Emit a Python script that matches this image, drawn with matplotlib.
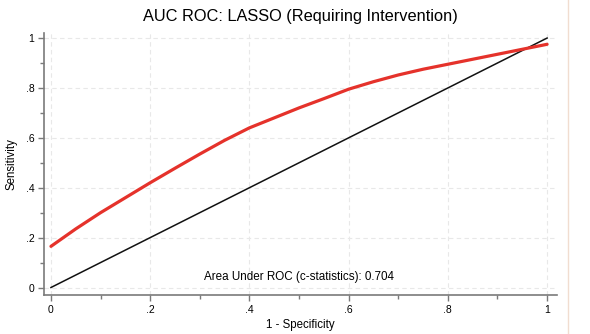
import numpy as np
import matplotlib.pyplot as plt
from matplotlib.lines import Line2D

# ROC curve
fpr = [0.0, 0.05, 0.1, 0.15, 0.2, 0.25, 0.3, 0.35, 0.4, 0.45, 0.5, 0.55,
       0.6, 0.65, 0.7, 0.75, 0.8, 0.85, 0.9, 0.95, 1.0]
tpr = [0.165, 0.235, 0.30, 0.36, 0.42, 0.478, 0.535, 0.59, 0.64, 0.68, 0.72,
       0.757, 0.795, 0.825, 0.852, 0.875, 0.895, 0.915, 0.935, 0.955, 0.975]
ref_x = [0, 1]
ref_y = [0, 1]

auc_text = "Area Under ROC (c-statistics): 0.704"
title = "AUC ROC: LASSO (Requiring Intervention)"
ticks = [0, 0.2, 0.4, 0.6, 0.8, 1.0]
tick_labels = ["0", ".2", ".4", ".6", ".8", "1"]

plt.rcParams['font.family'] = ['Liberation Sans', 'DejaVu Sans']

fig = plt.figure(figsize=(5.9, 3.34), dpi=100)
ax = fig.add_axes([0.0746, 0.1168, 0.8695, 0.7842])

ax.plot(fpr, tpr, color='#e5322b', lw=2.3, solid_capstyle='round', zorder=3)
ax.plot(ref_x, ref_y, color='#111111', lw=1.1, zorder=2)

ax.set_xlim(-0.014, 1.02)
ax.set_ylim(-0.03, 1.02)
ax.set_xticks(ticks)
ax.set_xticklabels(tick_labels)
ax.set_yticks(ticks)
ax.set_yticklabels(tick_labels)
ax.set_xticks(np.arange(0.1, 1.0, 0.2), minor=True)
ax.set_yticks(np.arange(0.1, 1.0, 0.2), minor=True)

ax.grid(True, which='major', color='#e8e8e8', ls=(0, (4, 3)), lw=0.8)
for s in ['top', 'right']:
    ax.spines[s].set_visible(False)
for s in ['left', 'bottom']:
    ax.spines[s].set_color('#7a7a7a')
    ax.spines[s].set_linewidth(1.2)
ax.tick_params(which='major', length=4, width=1, color='#7a7a7a',
               labelsize=7.5, pad=3)
ax.tick_params(which='minor', length=3, width=1, color='#7a7a7a')

ax.set_title(title, fontsize=11.8, pad=9)
ax.set_xlabel("1 - Specificity", fontsize=8.3, labelpad=3)
ax.set_ylabel("Sensitivity", fontsize=8.3, labelpad=6)
ax.text(0.5, 0.043, auc_text, fontsize=8.4, ha='center', va='center')

# panel border on the right of the screenshot
fig.add_artist(Line2D([568 / 590, 568 / 590], [0, 1], color='#f1ddd0',
                      lw=1.0, transform=fig.transFigure))

fig.savefig("out.png", dpi=100)
